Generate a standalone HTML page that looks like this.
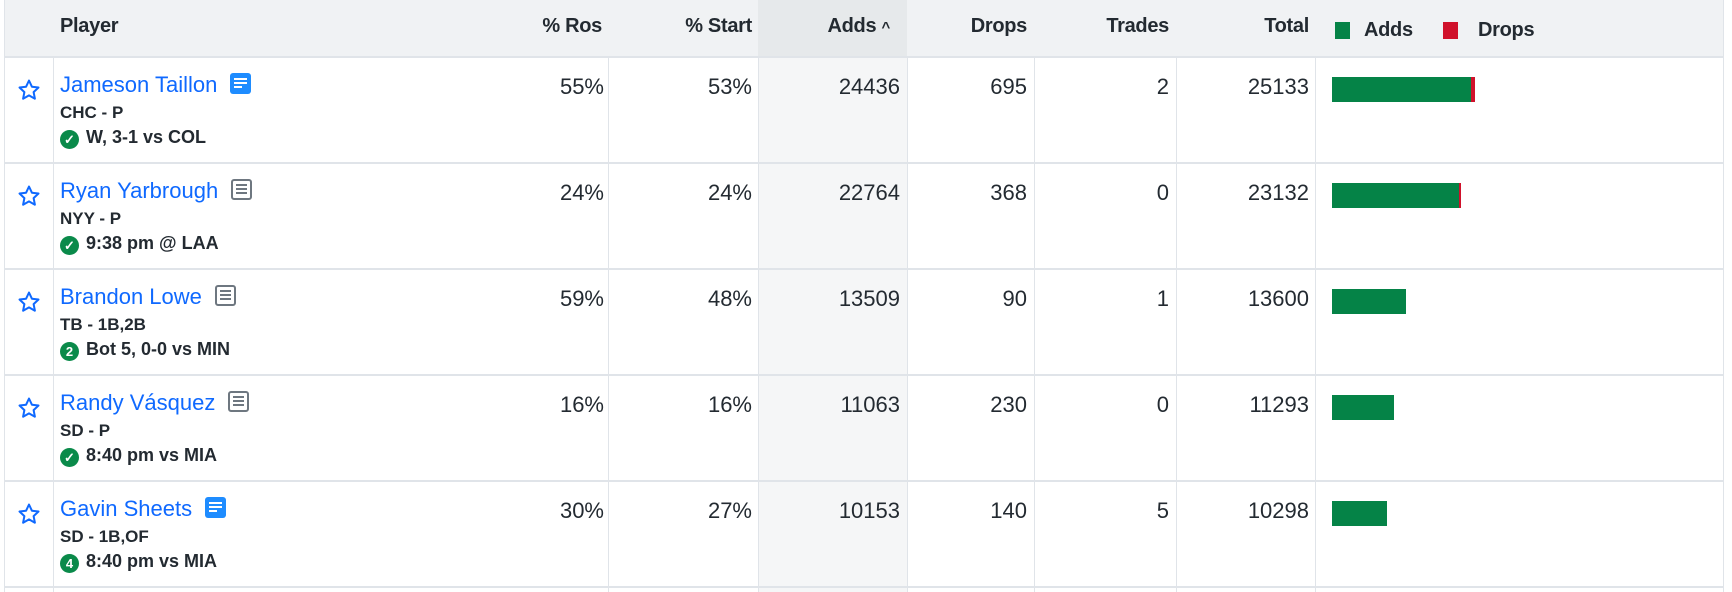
<!DOCTYPE html>
<html><head><meta charset="utf-8"><style>
*{margin:0;padding:0;box-sizing:border-box}
body{width:1732px;height:592px;background:#fff;position:relative;overflow:hidden;font-family:"Liberation Sans",sans-serif;color:#232a31}
.a{position:absolute}
.hd{top:0;height:57px;left:4px;width:1719px;background:#f0f2f4}
.h{position:absolute;top:15px;font-weight:bold;font-size:20px;white-space:nowrap;letter-spacing:-0.3px}
.r{text-align:right}
.v{position:absolute;width:1px;top:57px;height:535px;background:#e0e4e9}
.hl{position:absolute;left:4px;width:1719px;height:2px;background:#e0e4e9}
.num{position:absolute;font-size:22px;text-align:right;white-space:nowrap}
.name{position:absolute;left:60px;font-size:22px;color:#0f69ff;white-space:nowrap}
.ic{display:inline-block;width:21px;height:21px;border-radius:3px;vertical-align:-2px;margin-left:13px;position:relative}
.ic.b{background:#1e8cff}
.ic.g{border:2px solid #6e7780;background:#fff}
.ic i{position:absolute;left:4px;height:2px;background:#fff}
.ic.g i{left:3px;background:#6e7780}
.sub{position:absolute;left:60px;font-size:17px;font-weight:bold;white-space:nowrap}
.game{position:absolute;left:60px;font-size:18px;font-weight:bold;white-space:nowrap}
.ck{display:inline-block;width:19px;height:19px;border-radius:50%;background:#0a8a4a;color:#fff;font-size:13px;text-align:center;line-height:19px;vertical-align:-1px;margin-right:7px}
.star{position:absolute;left:17px;width:24px;height:24px}
.bar{position:absolute;left:1332px;height:25px;background:#058347}
.dr{position:absolute;height:25px;background:#d0112b}
</style></head><body>
<div class="a hd"></div>
<div class="a" style="left:758px;top:0;width:149px;height:57px;background:#e6e9eb"></div>
<div class="a" style="left:758px;top:57px;width:149px;height:535px;background:#f5f6f7"></div>
<div class="a" style="left:4px;top:0;width:1px;height:592px;background:#e0e4e9"></div>
<div class="a" style="left:1723px;top:0;width:1px;height:592px;background:#e0e4e9"></div>
<div class="v" style="left:53px"></div><div class="v" style="left:608px"></div><div class="v" style="left:758px"></div><div class="v" style="left:907px"></div><div class="v" style="left:1034px"></div><div class="v" style="left:1176px"></div><div class="v" style="left:1315px"></div>
<div class="hl" style="top:56px"></div><div class="hl" style="top:162px"></div><div class="hl" style="top:268px"></div><div class="hl" style="top:374px"></div><div class="hl" style="top:480px"></div><div class="hl" style="top:586px"></div>

<div class="h" style="left:60px">Player</div>
<div class="h r" style="right:1130px">% Ros</div>
<div class="h r" style="right:980px">% Start</div>
<div class="h r" style="right:842px">Adds <span style="font-size:15px">&#94;</span></div>
<div class="h r" style="right:705px">Drops</div>
<div class="h r" style="right:563px">Trades</div>
<div class="h r" style="right:423px">Total</div>
<div class="a" style="left:1335px;top:22px;width:15px;height:17px;background:#058347"></div>
<div class="h" style="left:1364px;top:19px">Adds</div>
<div class="a" style="left:1443px;top:22px;width:15px;height:17px;background:#d0112b"></div>
<div class="h" style="left:1478px;top:19px">Drops</div>

<svg width="0" height="0" style="position:absolute"><defs><path id="st" d="M12 2.5l2.9 6.2 6.6.8-4.9 4.6 1.3 6.6L12 17.4l-5.9 3.3 1.3-6.6-4.9-4.6 6.6-.8z" fill="none" stroke="#0f69ff" stroke-width="2" stroke-linejoin="round"/></defs></svg>

<!-- rows -->
<svg class="star" style="top:78px" viewBox="0 0 24 24"><use href="#st"/></svg>
<div class="name" style="top:72px">Jameson Taillon<span class="ic b"><i style="top:5px;width:13px"></i><i style="top:9px;width:13px"></i><i style="top:13px;width:8px"></i></span></div>
<div class="sub" style="top:103px">CHC - P</div>
<div class="game" style="top:127px"><span class="ck">✓</span>W, 3-1 vs COL</div>
<div class="num" style="right:1128px;top:74px">55%</div>
<div class="num" style="right:980px;top:74px">53%</div>
<div class="num" style="right:832px;top:74px">24436</div>
<div class="num" style="right:705px;top:74px">695</div>
<div class="num" style="right:563px;top:74px">2</div>
<div class="num" style="right:423px;top:74px">25133</div>
<div class="bar" style="top:77px;width:139px"></div><div class="dr" style="top:77px;left:1471px;width:4px"></div>

<svg class="star" style="top:184px" viewBox="0 0 24 24"><use href="#st"/></svg>
<div class="name" style="top:178px">Ryan Yarbrough<span class="ic g"><i style="top:3px;width:11px"></i><i style="top:7px;width:11px"></i><i style="top:11px;width:11px"></i></span></div>
<div class="sub" style="top:209px">NYY - P</div>
<div class="game" style="top:233px"><span class="ck">✓</span>9:38 pm @ LAA</div>
<div class="num" style="right:1128px;top:180px">24%</div>
<div class="num" style="right:980px;top:180px">24%</div>
<div class="num" style="right:832px;top:180px">22764</div>
<div class="num" style="right:705px;top:180px">368</div>
<div class="num" style="right:563px;top:180px">0</div>
<div class="num" style="right:423px;top:180px">23132</div>
<div class="bar" style="top:183px;width:127px"></div><div class="dr" style="top:183px;left:1459px;width:2px"></div>

<svg class="star" style="top:290px" viewBox="0 0 24 24"><use href="#st"/></svg>
<div class="name" style="top:284px">Brandon Lowe<span class="ic g"><i style="top:3px;width:11px"></i><i style="top:7px;width:11px"></i><i style="top:11px;width:11px"></i></span></div>
<div class="sub" style="top:315px">TB - 1B,2B</div>
<div class="game" style="top:339px"><span class="ck">2</span>Bot 5, 0-0 vs MIN</div>
<div class="num" style="right:1128px;top:286px">59%</div>
<div class="num" style="right:980px;top:286px">48%</div>
<div class="num" style="right:832px;top:286px">13509</div>
<div class="num" style="right:705px;top:286px">90</div>
<div class="num" style="right:563px;top:286px">1</div>
<div class="num" style="right:423px;top:286px">13600</div>
<div class="bar" style="top:289px;width:74px"></div>

<svg class="star" style="top:396px" viewBox="0 0 24 24"><use href="#st"/></svg>
<div class="name" style="top:390px">Randy Vásquez<span class="ic g"><i style="top:3px;width:11px"></i><i style="top:7px;width:11px"></i><i style="top:11px;width:11px"></i></span></div>
<div class="sub" style="top:421px">SD - P</div>
<div class="game" style="top:445px"><span class="ck">✓</span>8:40 pm vs MIA</div>
<div class="num" style="right:1128px;top:392px">16%</div>
<div class="num" style="right:980px;top:392px">16%</div>
<div class="num" style="right:832px;top:392px">11063</div>
<div class="num" style="right:705px;top:392px">230</div>
<div class="num" style="right:563px;top:392px">0</div>
<div class="num" style="right:423px;top:392px">11293</div>
<div class="bar" style="top:395px;width:62px"></div>

<svg class="star" style="top:502px" viewBox="0 0 24 24"><use href="#st"/></svg>
<div class="name" style="top:496px">Gavin Sheets<span class="ic b"><i style="top:5px;width:13px"></i><i style="top:9px;width:13px"></i><i style="top:13px;width:8px"></i></span></div>
<div class="sub" style="top:527px">SD - 1B,OF</div>
<div class="game" style="top:551px"><span class="ck">4</span>8:40 pm vs MIA</div>
<div class="num" style="right:1128px;top:498px">30%</div>
<div class="num" style="right:980px;top:498px">27%</div>
<div class="num" style="right:832px;top:498px">10153</div>
<div class="num" style="right:705px;top:498px">140</div>
<div class="num" style="right:563px;top:498px">5</div>
<div class="num" style="right:423px;top:498px">10298</div>
<div class="bar" style="top:501px;width:55px"></div>
</body></html>
